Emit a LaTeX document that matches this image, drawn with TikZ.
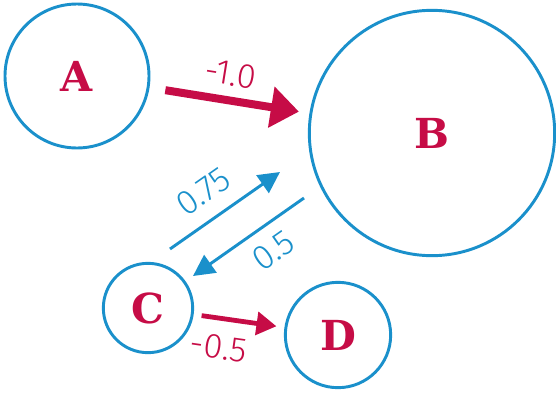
\documentclass[tikz,border=0pt]{standalone}
\usepackage{fontspec}
\setmainfont{Fira Sans Light}
\newfontfamily\letterfont{DejaVu Serif}
\usetikzlibrary{arrows.meta, positioning, calc}
\definecolor{netRed}{HTML}{C60C46}
\definecolor{netBlue}{HTML}{1A90CB}

\begin{document}
\begin{tikzpicture}[
    x=0.75pt, y=-0.75pt,
    unit/.style={circle, draw=netBlue, line width=2.2pt, inner sep=0pt,
                 font=\letterfont\bfseries\fontsize{31}{34}\selectfont, text=netRed},
    wgt/.style={font=\fontsize{26}{28}\selectfont, sloped, inner sep=1pt},
    bigedge/.style={draw=netRed, line width=6pt,
                    -{Triangle[length=21pt, width=30pt]}},
    midedge/.style={draw=netRed, line width=3.6pt,
                    -{Triangle[length=15pt, width=17pt]}},
    thinedge/.style={draw=netBlue, line width=2.2pt,
                     -{Triangle[length=16pt, width=16pt]}},
  ]
    \useasboundingbox (0,0) rectangle (556,393);

    \node[unit, minimum size=108pt] (A) at (77,76) {A};
    \node[unit, minimum size=184pt] (B) at (432,133) {B};
    \node[unit, minimum size=67pt] (C) at (148,308) {C};
    \node[unit, minimum size=79pt] (D) at (338,335) {D};

    \draw[bigedge, shorten <=12pt, shorten >=8pt] (A) -- (B)
      node[wgt, pos=0.48, above=7pt, text=netRed] {-1.0};
    \draw[thinedge] ([shift={(22,-59)}]C.center) -- ([shift={(-152,39)}]B.center)
      node[wgt, pos=0.45, above=10pt, text=netBlue] {0.75};
    \draw[thinedge] ([shift={(-128,65)}]B.center) -- ([shift={(45,-32)}]C.center)
      node[wgt, pos=0.41, below=8pt, text=netBlue] {0.5};
    \draw[midedge, shorten <=6pt, shorten >=6pt] (C) -- (D)
      node[wgt, pos=0.32, below=10pt, text=netRed] {-0.5};
  \end{tikzpicture}
\end{document}
